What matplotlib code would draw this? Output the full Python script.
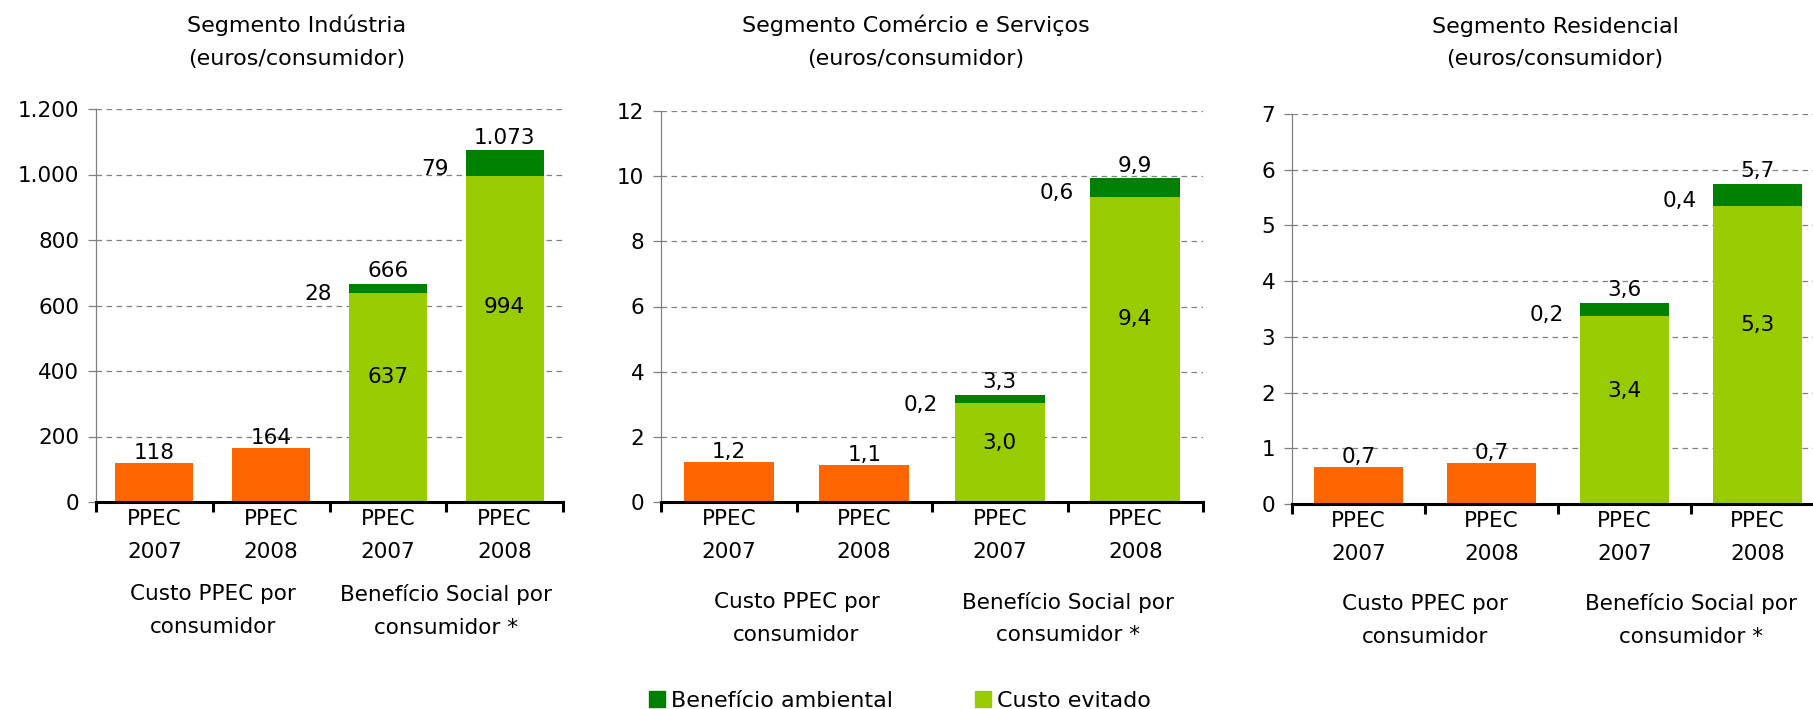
import matplotlib
matplotlib.use("Agg")
import matplotlib.pyplot as plt
from matplotlib.patches import Patch
from matplotlib.ticker import FuncFormatter, MultipleLocator
import matplotlib.transforms as mtransforms

# dados (euros/consumidor)
titulos = ["Segmento Indústria\n(euros/consumidor)",
           "Segmento Comércio e Serviços\n(euros/consumidor)",
           "Segmento Residencial\n(euros/consumidor)"]
categorias = ["PPEC\n2007", "PPEC\n2008", "PPEC\n2007", "PPEC\n2008"]
grupos = ["Custo PPEC por\nconsumidor", "Benefício Social por\nconsumidor *"]

custo_ppec = [[118, 164], [1.24, 1.13], [0.67, 0.73]]
custo_evitado = [[637.4, 994.3], [3.04, 9.36], [3.37, 5.34]]
beneficio_ambiental = [[28.4, 79.1], [0.24, 0.57], [0.24, 0.40]]

y_max = [1200, 12, 7]
y_passo = [200, 2, 1]

laranja = "#FF6600"
verde_claro = "#99CC00"
verde_escuro = "#008000"
cinza = "#808080"

W, H = 1813, 709
# posições dos eixos em pixels: esquerda, zero, topo, direita
caixas = [(96, 502, 109, 563), (661, 502, 111, 1203), (1292, 504, 114, 1824)]
pos_titulo = [(297, 42), (916, 42), (1555, 43)]


def fmt_milhar(v):
    return f"{v:,.0f}".replace(",", ".")


def fmt_decimal(v):
    return f"{v:.1f}".replace(".", ",")


formatos = [fmt_milhar, fmt_decimal, fmt_decimal]

fig = plt.figure(figsize=(W / 100, H / 100), dpi=100, facecolor="white")
fs = 15.5
esp = 1.8

for k in range(3):
    esq, zero, topo, dir_ = caixas[k]
    ax = fig.add_axes([esq / W, (H - zero) / H, (dir_ - esq) / W, (zero - topo) / H])
    fmt = formatos[k]
    larg = 0.667

    # barras de custo (laranja)
    xs_c = [0, 1]
    ax.bar(xs_c, custo_ppec[k], width=larg, color=laranja, zorder=2)
    for x, v in zip(xs_c, custo_ppec[k]):
        ax.annotate(fmt(v), (x, v), xytext=(0, 0), textcoords="offset points",
                    ha="center", va="bottom", fontsize=fs)

    # barras empilhadas de benefício
    xs_b = [2, 3]
    ax.bar(xs_b, custo_evitado[k], width=larg, color=verde_claro, zorder=2)
    ax.bar(xs_b, beneficio_ambiental[k], width=larg, bottom=custo_evitado[k],
           color=verde_escuro, zorder=2)
    for x, ce, ba in zip(xs_b, custo_evitado[k], beneficio_ambiental[k]):
        ax.text(x, ce * 0.6, fmt(ce), ha="center", va="center", fontsize=fs)
        ax.annotate(fmt(ba), (x - larg / 2, ce + ba / 2), xytext=(-12, -4),
                    textcoords="offset points", ha="right", va="center", fontsize=fs)
        ax.annotate(fmt(ce + ba), (x, ce + ba), xytext=(0, 2),
                    textcoords="offset points", ha="center", va="bottom", fontsize=fs)

    ax.set_xlim(-0.5, 3.5)
    ax.set_ylim(0, y_max[k])
    ax.yaxis.set_major_locator(MultipleLocator(y_passo[k]))
    ax.yaxis.set_major_formatter(FuncFormatter(lambda v, _: fmt_milhar(v)))
    ax.yaxis.grid(True, color=cinza, linestyle=(0, (4.5, 3.5)), linewidth=0.9)
    ax.set_axisbelow(True)

    ax.spines["top"].set_visible(False)
    ax.spines["right"].set_visible(False)
    ax.spines["left"].set_color(cinza)
    ax.spines["left"].set_linewidth(0.9)
    ax.spines["bottom"].set_linewidth(2.2)
    ax.spines["bottom"].set_zorder(3)
    ax.tick_params(axis="y", direction="out", length=6, width=0.9, color=cinza,
                   labelsize=fs, pad=6)

    ax.set_xticks(range(4))
    ax.set_xticklabels(categorias, fontsize=fs, linespacing=esp)
    ax.set_xticks([-0.5, 0.5, 1.5, 2.5, 3.5], minor=True)
    ax.tick_params(axis="x", which="major", length=0, pad=5)
    ax.tick_params(axis="x", which="minor", direction="out", length=7, width=2.2)

    # rótulos de grupo por baixo das categorias
    trans = mtransforms.blended_transform_factory(ax.transData, ax.transAxes)
    y_grupo = -(0.277 if k == 0 else 0.298)
    for x, g in zip([0.5, 2.5], grupos):
        ax.text(x, y_grupo, g, transform=trans, ha="center", va="center",
                fontsize=fs, linespacing=esp)

    tx, ty = pos_titulo[k]
    fig.text(tx / W, 1 - ty / H, titulos[k], ha="center", va="center",
             fontsize=16, linespacing=esp)

handles = [Patch(color=verde_escuro), Patch(color=verde_claro)]
fig.legend(handles, ["Benefício ambiental", "Custo evitado"], loc="center",
           bbox_to_anchor=(900 / W, 8 / H), ncol=2, frameon=False, fontsize=16,
           handlelength=0.71, handleheight=0.71, handletextpad=0.27,
           columnspacing=3.7, borderpad=0, borderaxespad=0)

fig.savefig("out.png", dpi=100, facecolor="white")
